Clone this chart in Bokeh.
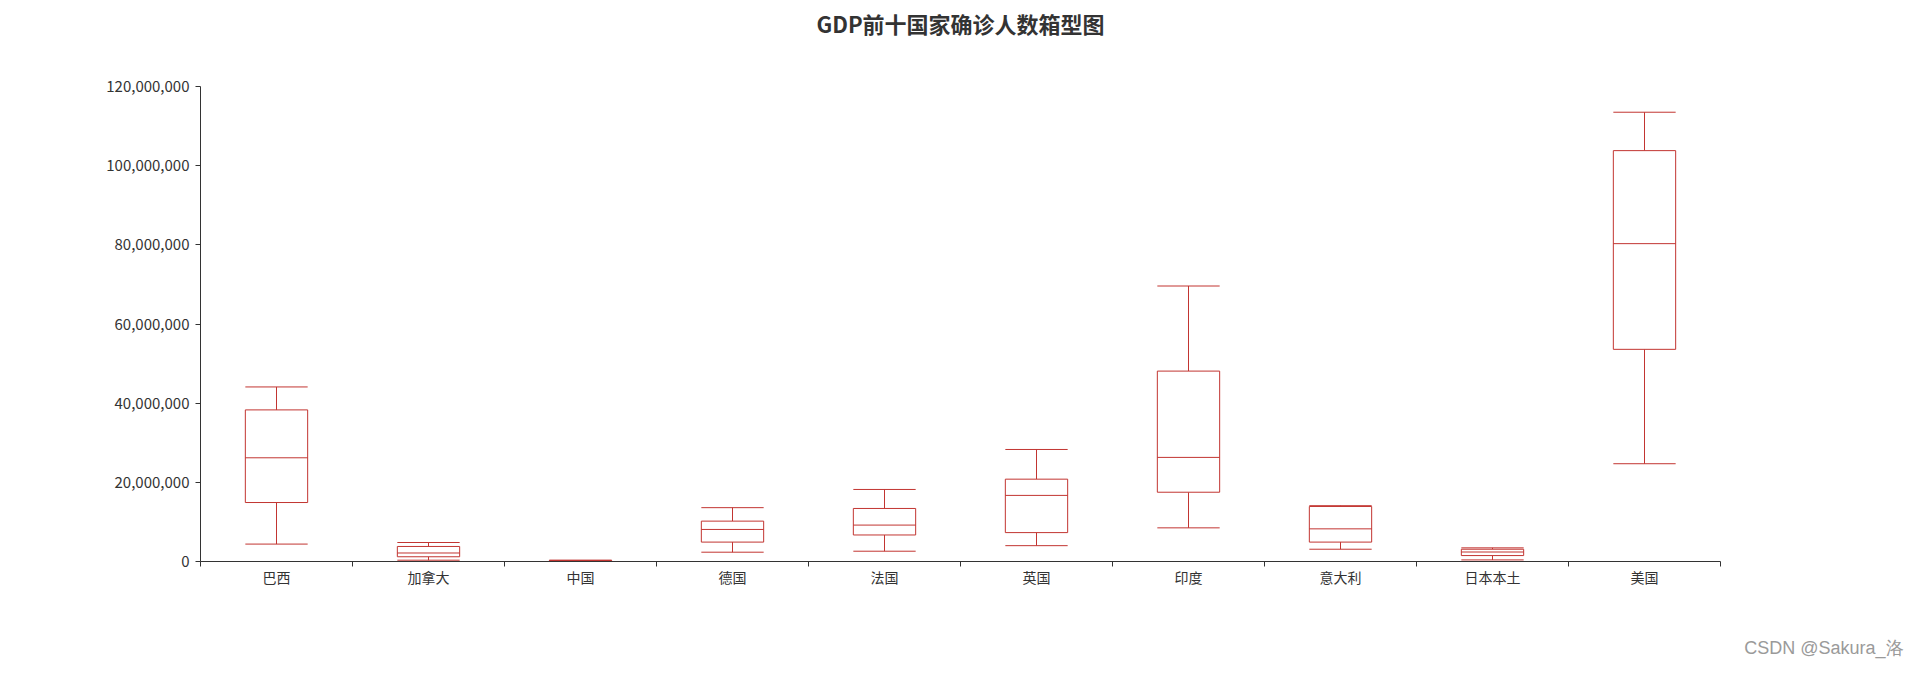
# Boxplot of confirmed cases for the ten largest economies
from bokeh.plotting import figure
from bokeh.models import (ColumnDataSource, FixedTicker, NumeralTickFormatter,
                          CustomJSTickFormatter, Range1d, Title)
from bokeh.embed import file_html
from bokeh.resources import INLINE

countries = ["巴西", "加拿大", "中国", "德国", "法国", "英国", "印度", "意大利", "日本本土", "美国"]
low = [4400000, 330000, 50000, 2350000, 2600000, 4000000, 8500000, 3100000, 400000, 24700000]
q1 = [14900000, 1200000, 100000, 4900000, 6700000, 7300000, 17500000, 4900000, 1500000, 53600000]
median = [26200000, 2150000, 150000, 8100000, 9200000, 16700000, 26300000, 8250000, 2400000, 80300000]
q3 = [38300000, 3800000, 250000, 10200000, 13400000, 20800000, 48100000, 13900000, 3100000, 103800000]
high = [44100000, 4800000, 350000, 13600000, 18200000, 28300000, 69600000, 14100000, 3450000, 113500000]
y_ticks = [0, 20000000, 40000000, 60000000, 80000000, 100000000, 120000000]

RED = "#c23531"
FONT = "Noto Sans CJK SC"
BOX_W = 0.41

# Category i sits in the band [i, i+1]
xs = [i + 0.5 for i in range(len(countries))]
source = ColumnDataSource(data={
    'x': xs,
    'x0': [x - BOX_W / 2 for x in xs],
    'x1': [x + BOX_W / 2 for x in xs],
    'low': low, 'q1': q1, 'median': median, 'q3': q3, 'high': high,
})

p = figure(width=1904, height=672, output_backend="svg", toolbar_location=None,
           x_range=Range1d(0, len(countries)), y_range=Range1d(0, 120000000),
           min_border_left=200, min_border_right=184,
           min_border_top=85, min_border_bottom=111)

# the empty second line lifts the title away from the frame
p.title.text = "GDP前十国家确诊人数箱型图\n"
p.title.align = "center"
p.title.text_font = FONT
p.title.text_font_size = "22px"
p.title.text_font_style = "bold"
p.title.text_color = "#333333"
p.title.text_line_height = 1.32

p.outline_line_color = None
p.xgrid.grid_line_color = None
p.ygrid.grid_line_color = None

# whiskers, caps, boxes, medians
p.segment(x0='x', y0='q3', x1='x', y1='high', source=source, line_color=RED, line_width=1)
p.segment(x0='x', y0='low', x1='x', y1='q1', source=source, line_color=RED, line_width=1)
p.segment(x0='x0', y0='high', x1='x1', y1='high', source=source, line_color=RED, line_width=1)
p.segment(x0='x0', y0='low', x1='x1', y1='low', source=source, line_color=RED, line_width=1)
p.vbar(x='x', width=BOX_W, bottom='q1', top='q3', source=source,
       fill_color="white", line_color=RED, line_width=1)
p.segment(x0='x0', y0='median', x1='x1', y1='median', source=source, line_color=RED, line_width=1)

# x axis: labels in band centres, ticks on band boundaries
p.xaxis.ticker = FixedTicker(ticks=xs, minor_ticks=list(range(len(countries) + 1)))
p.xaxis.formatter = CustomJSTickFormatter(args=dict(cats=countries),
                                          code="return cats[Math.floor(tick)];")
p.xaxis.major_tick_out = 0
p.xaxis.major_tick_in = 0
p.xaxis.minor_tick_out = 5
p.xaxis.minor_tick_in = 0
p.xaxis.minor_tick_line_color = "#333333"
p.xaxis.major_label_standoff = 0

p.yaxis.ticker = FixedTicker(ticks=y_ticks, minor_ticks=[])
p.yaxis.formatter = NumeralTickFormatter(format="0,0")
p.yaxis.major_tick_out = 5
p.yaxis.major_tick_in = 0
p.yaxis.minor_tick_out = 0
p.yaxis.minor_tick_in = 0
p.yaxis.major_label_standoff = 6

for ax in (p.xaxis, p.yaxis):
    ax.axis_line_color = "#333333"
    ax.major_tick_line_color = "#333333"
    ax.major_label_text_color = "#333333"
    ax.major_label_text_font = FONT
    ax.major_label_text_font_size = "14px"
p.yaxis.major_label_text_font_size = "15px"

# watermark in the bottom right corner; the empty first line pushes it down
watermark = Title(text="\nCSDN @Sakura_洛", align="right", vertical_align="bottom",
                  standoff=0, offset=-183, text_line_height=2.33,
                  text_font="Liberation Sans", text_font_size="18px",
                  text_font_style="normal", text_color="#9a9a9a")
p.add_layout(watermark, "below")

open("out.html", "w").write(file_html(p, INLINE))
